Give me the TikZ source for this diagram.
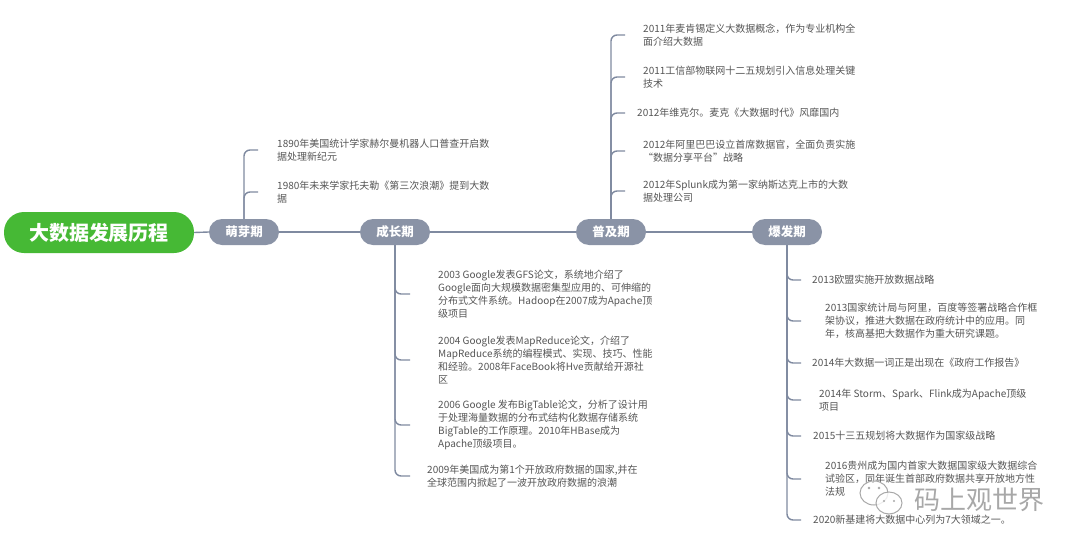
\documentclass[tikz,border=0pt]{standalone}
\usepackage{fontspec}
\setmainfont{Noto Sans CJK SC}
\definecolor{rootgreen}{HTML}{46B935}
\definecolor{pillgray}{HTML}{8A93A6}
\definecolor{conncol}{HTML}{7F8AA0}
\definecolor{txtcol}{HTML}{555555}
\definecolor{wmcol}{HTML}{A8A8A8}
\tikzset{
  rootbox/.style={fill=rootgreen, rounded corners=20pt, minimum width=190pt, minimum height=41pt, inner sep=0, text=white, font=\bfseries\fontsize{20}{24}\selectfont},
  phase/.style={fill=pillgray, rounded corners=13pt, minimum width=70pt, minimum height=26pt, inner sep=0, text=white, font=\bfseries\fontsize{12.5}{14}\selectfont},
  leaf/.style={anchor=west, align=left, text=txtcol, inner sep=0, font=\fontsize{10}{13}\selectfont},
  conn/.style={draw=conncol, line width=1.4pt, rounded corners=6pt},
  wm/.style={text=wmcol, inner sep=0, font=\fontsize{26}{30}\selectfont}
}
\begin{document}
\begin{tikzpicture}[x=1pt,y=-1pt]
\useasboundingbox (0,0) rectangle (1080,549);
\node[rootbox] (root) at (99,232.5) {大数据发展历程};
\node[phase] (p1) at (244,232) {萌芽期};
\node[phase] (p2) at (395,232) {成长期};
\node[phase] (p3) at (611,232) {普及期};
\node[phase] (p4) at (787,232) {爆发期};
% leaves
\node[leaf] (t1) at (277,150) {1890年美国统计学家赫尔曼机器人口普查开启数\\据处理新纪元};
\node[leaf] (t2) at (277,192) {1980年未来学家托夫勒《第三次浪潮》提到大数\\据};
\node[leaf] (t3) at (438,294) {2003 Google发表GFS论文，系统地介绍了\\Google面向大规模数据密集型应用的、可伸缩的\\分布式文件系统。Hadoop在2007成为Apache顶\\级项目};
\node[leaf] (t4) at (438,360) {2004 Google发表MapReduce论文，介绍了\\MapReduce系统的编程模式、实现、技巧、性能\\和经验。2008年FaceBook将Hve贡献给开源社\\区};
\node[leaf] (t5) at (438,425) {2006 Google 发布BigTable论文，分析了设计用\\于处理海量数据的分布式结构化数据存储系统\\BigTable的工作原理。2010年HBase成为\\Apache顶级项目。};
\node[leaf] (t6) at (427,476) {2009年美国成为第1个开放政府数据的国家,并在\\全球范围内掀起了一波开放政府数据的浪潮};
\node[leaf] (t7) at (643,35) {2011年麦肯锡定义大数据概念，作为专业机构全\\面介绍大数据};
\node[leaf] (t8) at (643,77) {2011工信部物联网十二五规划引入信息处理关键\\技术};
\node[leaf] (t9) at (637,113) {2012年维克尔。麦克《大数据时代》风靡国内};
\node[leaf] (t10) at (643,151) {2012年阿里巴巴设立首席数据官，全面负责实施\\“数据分享平台”战略};
\node[leaf] (t11) at (643,191) {2012年Splunk成为第一家纳斯达克上市的大数\\据处理公司};
\node[leaf] (t12) at (812,280) {2013欧盟实施开放数据战略};
\node[leaf] (t13) at (825,321) {2013国家统计局与阿里，百度等签署战略合作框\\架协议，推进大数据在政府统计中的应用。同\\年，核高基把大数据作为重大研究课题。};
\node[leaf] (t14) at (812,363) {2014年大数据一词正是出现在《政府工作报告》};
\node[leaf] (t15) at (819,400) {2014年 Storm、Spark、Flink成为Apache顶级\\项目};
\node[leaf] (t16) at (813,436) {2015十三五规划将大数据作为国家级战略};
\node[leaf] (t17) at (825,479) {2016贵州成为国内首家大数据国家级大数据综合\\试验区，同年诞生首部政府数据共享开放地方性\\法规};
\node[leaf] (t18) at (813,520) {2020新基建将大数据中心列为7大领域之一。};
% connectors
\draw[conn] (root.east) -- (p1.west);
\draw[conn] (p1.east) -- (p2.west);
\draw[conn] (p2.east) -- (p3.west);
\draw[conn] (p3.east) -- (p4.west);
\draw[conn] (p1.north) |- ([xshift=-19pt]t1.west);
\draw[conn] (p1.north) |- ([xshift=-19pt]t2.west);
\draw[conn] (p2.south) |- ([xshift=-28pt]t3.west);
\draw[conn] (p2.south) |- ([xshift=-28pt]t4.west);
\draw[conn] (p2.south) |- ([xshift=-28pt]t5.west);
\draw[conn] (p2.south) |- ([xshift=-17pt]t6.west);
\draw[conn] (p3.north) |- ([xshift=-18pt]t7.west);
\draw[conn] (p3.north) |- ([xshift=-18pt]t8.west);
\draw[conn] (p3.north) |- ([xshift=-12pt]t9.west);
\draw[conn] (p3.north) |- ([xshift=-18pt]t10.west);
\draw[conn] (p3.north) |- ([xshift=-18pt]t11.west);
\draw[conn] (p4.south) |- ([xshift=-11pt]t12.west);
\draw[conn] (p4.south) |- ([xshift=-24pt]t13.west);
\draw[conn] (p4.south) |- ([xshift=-11pt]t14.west);
\draw[conn] (p4.south) |- ([xshift=-18pt]t15.west);
\draw[conn] (p4.south) |- ([xshift=-12pt]t16.west);
\draw[conn] (p4.south) |- ([xshift=-24pt]t17.west);
\draw[conn] (p4.south) |- ([xshift=-12pt]t18.west);
% watermark
\draw[wmcol, line width=1pt, fill=white, fill opacity=0.6] (874,493) ellipse [x radius=14, y radius=12];
\draw[wmcol, line width=1pt, fill=white, fill opacity=0.8] (889,503) ellipse [x radius=13, y radius=11];
\fill[wmcol] (869,488) circle (1.3) (879,488) circle (1.3) (884,501) circle (1.2) (894,501) circle (1.2);
\node[wm] (wmt) at (979,500) {码上观世界};
\end{tikzpicture}
\end{document}
